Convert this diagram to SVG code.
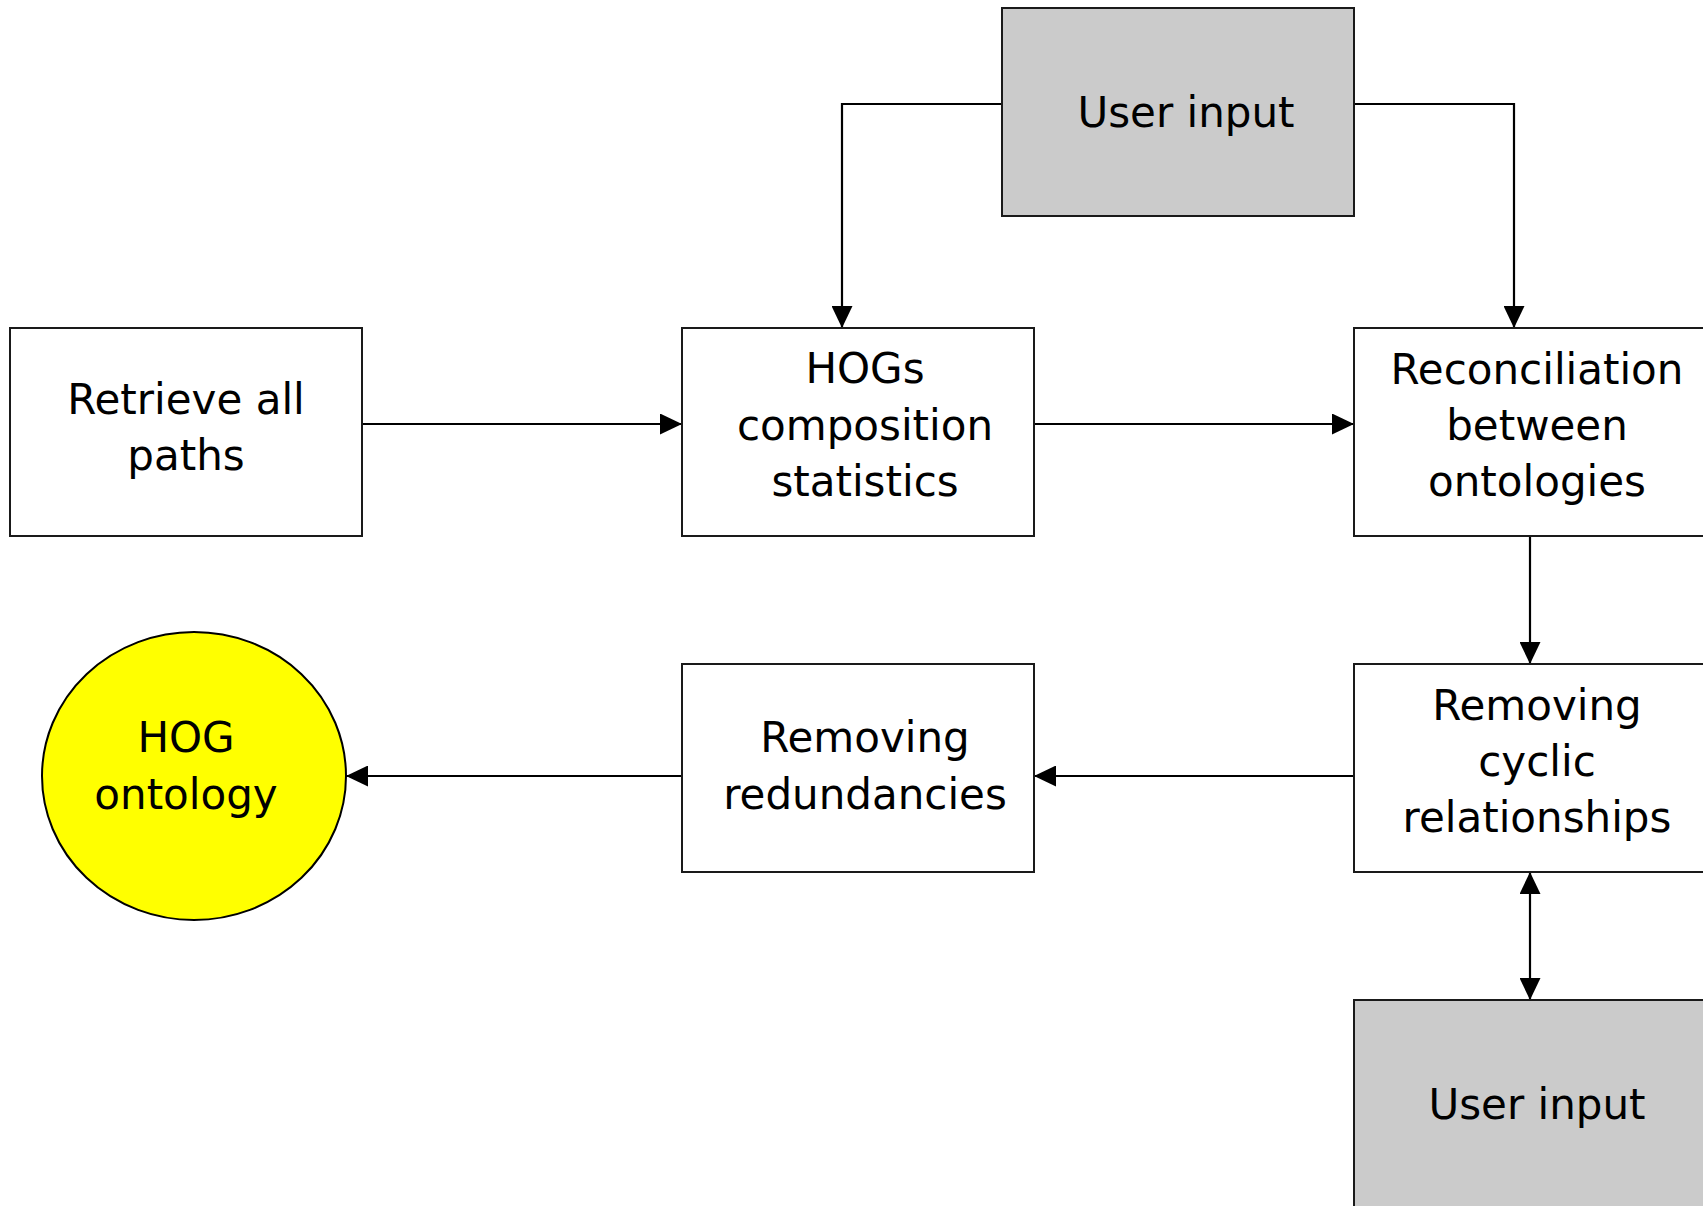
<svg xmlns="http://www.w3.org/2000/svg" width="1703" height="1206" viewBox="0 0 1703 1206">
  <style>
    .box { fill: #ffffff; stroke: #1a1a1a; stroke-width: 2; }
    .input { fill: #cbcbcb; stroke: #1a1a1a; stroke-width: 2; }
    .goal { fill: #ffff00; stroke: #000000; stroke-width: 2; }
    .label { font-family: "DejaVu Sans", Verdana, sans-serif; font-size: 42px; fill: #000000; text-anchor: middle; }
    .edge { fill: none; stroke: #000000; stroke-width: 2.2; }
  </style>
  <defs>
    <marker id="arrow" markerUnits="userSpaceOnUse" markerWidth="22" markerHeight="21" refX="22" refY="10.5" orient="auto-start-reverse">
      <path d="M0,0 L22,10.5 L0,21 z" fill="#000000"/>
    </marker>
  </defs>
  <rect width="1703" height="1206" fill="#ffffff"/>

  <g id="connectors">
    <path class="edge" d="M1002,104 H842 V328" marker-end="url(#arrow)"/>
    <path class="edge" d="M1354,104 H1514 V328" marker-end="url(#arrow)"/>
    <path class="edge" d="M362,424 H682" marker-end="url(#arrow)"/>
    <path class="edge" d="M1034,424 H1354" marker-end="url(#arrow)"/>
    <path class="edge" d="M1530,536 V664" marker-end="url(#arrow)"/>
    <path class="edge" d="M1354,776 H1034" marker-end="url(#arrow)"/>
    <path class="edge" d="M682,776 H346" marker-end="url(#arrow)"/>
    <path class="edge" d="M1530,872 V1000" marker-start="url(#arrow)" marker-end="url(#arrow)"/>
  </g>

  <g id="user-input-top">
    <rect class="input" x="1002" y="8" width="352" height="208"/>
    <text class="label" x="1186" y="127">User input</text>
  </g>

  <g id="retrieve-paths">
    <rect class="box" x="10" y="328" width="352" height="208"/>
    <text class="label" x="186" y="414">Retrieve all</text>
    <text class="label" x="186" y="470">paths</text>
  </g>

  <g id="hogs-statistics">
    <rect class="box" x="682" y="328" width="352" height="208"/>
    <text class="label" x="865" y="383">HOGs</text>
    <text class="label" x="865" y="440">composition</text>
    <text class="label" x="865" y="496">statistics</text>
  </g>

  <g id="reconciliation">
    <rect class="box" x="1354" y="328" width="352" height="208"/>
    <text class="label" x="1537" y="384">Reconciliation</text>
    <text class="label" x="1537" y="440">between</text>
    <text class="label" x="1537" y="496">ontologies</text>
  </g>

  <g id="removing-cyclic">
    <rect class="box" x="1354" y="664" width="352" height="208"/>
    <text class="label" x="1537" y="720">Removing</text>
    <text class="label" x="1537" y="776">cyclic</text>
    <text class="label" x="1537" y="832">relationships</text>
  </g>

  <g id="removing-redundancies">
    <rect class="box" x="682" y="664" width="352" height="208"/>
    <text class="label" x="865" y="752">Removing</text>
    <text class="label" x="865" y="809">redundancies</text>
  </g>

  <g id="hog-ontology">
    <ellipse class="goal" cx="194" cy="776" rx="152" ry="144"/>
    <text class="label" x="186" y="752">HOG</text>
    <text class="label" x="186" y="809">ontology</text>
  </g>

  <g id="user-input-bottom">
    <rect class="input" x="1354" y="1000" width="352" height="220"/>
    <text class="label" x="1537" y="1119">User input</text>
  </g>
</svg>
